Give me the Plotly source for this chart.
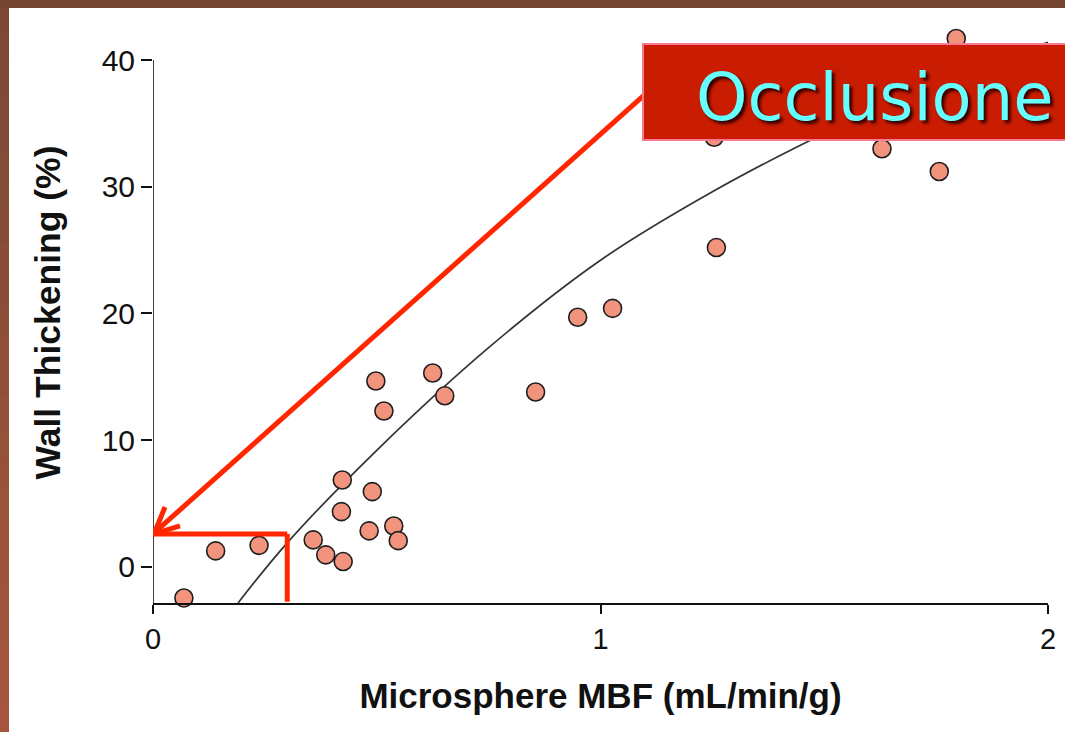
import plotly.graph_objects as go

# ---- data ----
mbf = [0.069, 0.14, 0.237, 0.358, 0.386, 0.425, 0.421, 0.423, 0.483, 0.490,
       0.498, 0.516, 0.538, 0.548, 0.625, 0.652, 0.855, 0.949, 1.027, 1.259,
       1.254, 1.629, 1.757, 1.795]
wall_thickening = [-2.45, 1.26, 1.7, 2.13, 0.95, 0.42, 4.36, 6.86, 2.84, 5.94,
                   14.67, 12.3, 3.23, 2.07, 15.3, 13.5, 13.8, 19.7, 20.4, 25.2,
                   33.9, 33.0, 31.2, 41.7]

curve_x = [0.19, 0.3, 0.5, 0.75, 1.0, 1.25, 1.5, 1.75, 2.0]
curve_y = [-2.85, 1.9, 9.2, 17.3, 24.2, 29.6, 34.2, 38.2, 41.4]

x_ticks = [0, 1, 2]
y_ticks = [0, 10, 20, 30, 40]

threshold_x = 0.3
threshold_y = 2.6
label_text = "Occlusione"

# ---- layout constants ----
W, H = 1065, 732
ML, MR, MT, MB = 153, 17, 22, 129
Y_MIN, Y_MAX = -2.85, 43.0
PW = W - ML - MR
PH = H - MT - MB


def px(p):
    return (p - ML) / PW


def py(p):
    return (H - MB - p) / PH


RED = "#ff2600"

fig = go.Figure()

fig.add_trace(go.Scatter(
    x=curve_x, y=curve_y, mode="lines",
    line=dict(color="#333333", width=1.7, shape="spline", smoothing=1.0),
    hoverinfo="skip", showlegend=False))

fig.add_trace(go.Scatter(
    x=mbf, y=wall_thickening, mode="markers",
    marker=dict(size=18, color="#f2937d", line=dict(color="#1e1e1e", width=1.6)),
    cliponaxis=False, showlegend=False))

shapes = []

# left border gradient (dark brown -> red-brown)
n_bands = 24
c_top = (0x7a, 0x48, 0x35)
c_bot = (0xa6, 0x56, 0x3d)
for i in range(n_bands):
    t = i / (n_bands - 1)
    col = tuple(int(round(c_top[k] + (c_bot[k] - c_top[k]) * t)) for k in range(3))
    y_top_px = H * i / n_bands
    y_bot_px = H * (i + 1) / n_bands + 1
    shapes.append(dict(type="rect", xref="paper", yref="paper",
                       x0=px(0), x1=px(9), y0=py(y_bot_px), y1=py(y_top_px),
                       fillcolor="rgb(%d,%d,%d)" % col, line=dict(width=0), layer="above"))
# top border
shapes.append(dict(type="rect", xref="paper", yref="paper",
                   x0=px(0), x1=px(W), y0=py(8), y1=py(0),
                   fillcolor="#774632", line=dict(width=0), layer="above"))

# y axis line (stops at 40)
shapes.append(dict(type="line", xref="x", yref="y", x0=0, x1=0, y0=Y_MIN, y1=y_ticks[-1],
                   line=dict(color="#111111", width=1.6)))

# red L lines
shapes.append(dict(type="line", xref="x", yref="y", x0=0, x1=threshold_x,
                   y0=threshold_y, y1=threshold_y, line=dict(color=RED, width=5)))
shapes.append(dict(type="line", xref="x", yref="y", x0=threshold_x, x1=threshold_x,
                   y0=threshold_y, y1=Y_MIN + 0.1, line=dict(color=RED, width=5)))

# arrow shaft
shapes.append(dict(type="line", xref="x", yref="y", x0=1.10, y0=37.3, x1=0, y1=threshold_y,
                   line=dict(color=RED, width=5)))
# arrow head (open chevron), pixel offsets from the tip
shapes.append(dict(type="path", xref="x", yref="y", xsizemode="pixel", ysizemode="pixel",
                   xanchor=0, yanchor=threshold_y,
                   path="M 12,27 L 1,0 L 27,8",
                   line=dict(color=RED, width=5), fillcolor="rgba(0,0,0,0)"))

# label box
shapes.append(dict(type="rect", xref="paper", yref="paper",
                   x0=px(643), x1=px(1075), y0=py(140), y1=py(44),
                   fillcolor="#c91c00", line=dict(color="#f77a92", width=2)))

fig.update_layout(
    width=W, height=H,
    margin=dict(l=ML, r=MR, t=MT, b=MB, autoexpand=False),
    paper_bgcolor="white", plot_bgcolor="white",
    font=dict(family="Liberation Sans, Arial, sans-serif", color="#111111"),
    shapes=shapes,
    annotations=[dict(
        xref="paper", yref="paper", x=px(694), y=py(97), xanchor="left", yanchor="middle",
        text=label_text, showarrow=False,
        font=dict(family="DejaVu Sans, Verdana, sans-serif", size=65.5, color="#66ffff",
                  shadow="3px 3px 3px #3a0000"))],
    xaxis=dict(
        range=[0, 2], tickvals=x_ticks, ticktext=[str(v) for v in x_ticks],
        showline=True, linecolor="#111111", linewidth=1.6, automargin=False,
        ticks="outside", ticklen=9, tickwidth=1.6, tickcolor="#111111",
        showgrid=False, zeroline=False,
        tickfont=dict(size=29, color="#111111"),
        title=dict(text="<b>Microsphere MBF (mL/min/g)</b>", standoff=30,
                   font=dict(size=35, color="#111111"))),
    yaxis=dict(
        range=[Y_MIN, Y_MAX], tickvals=y_ticks, ticktext=[str(v) for v in y_ticks],
        showline=False, automargin=False,
        ticks="outside", ticklen=11, tickwidth=1.6, tickcolor="#111111",
        showgrid=False, zeroline=False,
        tickfont=dict(size=30, color="#111111"),
        title=dict(text="<b>Wall Thickening (%)</b>", standoff=30,
                   font=dict(size=35.5, color="#111111"))),
)

fig.write_html("out.html", config={"displayModeBar": False},
               post_script="document.body.style.margin='0';document.body.style.overflow='hidden';")
